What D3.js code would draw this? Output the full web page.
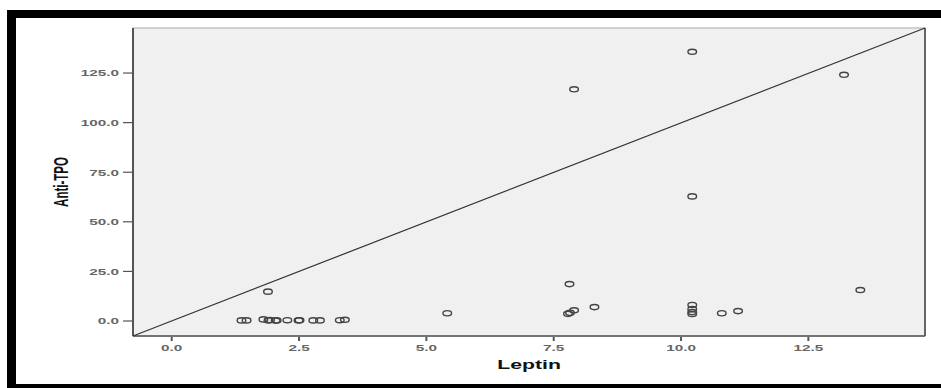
<!DOCTYPE html>
<html><head><meta charset="utf-8">
<script src="https://cdn.jsdelivr.net/npm/d3@7"></script>
<style>html,body{margin:0;padding:0;background:#fff;}svg{display:block;}</style>
</head><body>
<svg id="c" width="941" height="388"></svg>
<script>
// ---- data ----
const leptin  = [1.37,1.47,1.80,1.90,1.93,2.04,2.06,2.27,2.49,2.51,2.78,2.91,3.30,3.40,1.89,5.41,7.78,7.82,7.90,8.30,7.81,7.90,10.22,10.22,10.22,10.22,10.22,10.22,10.80,11.12,13.20,13.52];
const antiTPO = [0.3,0.3,0.8,0.3,0.5,0.2,0.3,0.4,0.3,0.4,0.3,0.3,0.4,0.6,14.8,3.9,3.6,4.1,5.4,7.0,18.6,116.8,135.7,62.8,8.1,6.0,4.5,3.5,3.9,5.0,124.1,15.6];
const xTicks = [0, 2.5, 5, 7.5, 10, 12.5];
const yTicks = [0, 25, 50, 75, 100, 125];
const xDomain = [-0.76, 14.79];
const yDomain = [-7.56, 147.7];
const refLineX = [-0.76, 14.79];
const refLineY = [-7.56, 147.7];
const xTitle = "Leptin", yTitle = "Anti-TPO";

// ---- layout ----
const svg = d3.select("#c");
const L = 133, R = 925, T = 28, B = 336;
const SX = 1.7; // horizontal stretch of the source image
const x = d3.scaleLinear().domain(xDomain).range([L, R]);
const y = d3.scaleLinear().domain(yDomain).range([B, T]);

// outer black frame (left, top, bottom)
svg.append("rect").attr("x",7).attr("y",10).attr("width",934).attr("height",8).attr("fill","#000");
svg.append("rect").attr("x",7).attr("y",10).attr("width",9).attr("height",378).attr("fill","#000");
svg.append("rect").attr("x",7).attr("y",384).attr("width",934).attr("height",4).attr("fill","#000");

// plot background
svg.append("rect").attr("x",L).attr("y",T).attr("width",R-L).attr("height",B-T)
  .attr("fill","#f0f0f0").attr("stroke","#aaa").attr("stroke-width",1);
// darker edges
svg.append("line").attr("x1",L).attr("x2",L).attr("y1",T).attr("y2",B).attr("stroke","#555").attr("stroke-width",2);
svg.append("line").attr("x1",R).attr("x2",R).attr("y1",T).attr("y2",B).attr("stroke","#666").attr("stroke-width",2);
svg.append("line").attr("x1",L).attr("x2",R).attr("y1",B).attr("y2",B).attr("stroke","#555").attr("stroke-width",1.7);

// y axis ticks
const yAx = svg.append("g");
yTicks.forEach(t => {
  yAx.append("line").attr("x1",L-10).attr("x2",L).attr("y1",y(t)).attr("y2",y(t)).attr("stroke","#555").attr("stroke-width",1.2);
  yAx.append("text").attr("transform",`translate(119,${y(t)+3.3}) scale(${SX},1)`)
    .attr("text-anchor","end").attr("font-family","Liberation Sans, Arial, sans-serif")
    .attr("font-size",9).attr("font-weight","bold").attr("fill","#666").text(t.toFixed(1));
});
// x axis ticks
const xAx = svg.append("g");
xTicks.forEach(t => {
  xAx.append("line").attr("x1",x(t)).attr("x2",x(t)).attr("y1",B+1).attr("y2",B+5).attr("stroke","#555").attr("stroke-width",2);
  xAx.append("text").attr("transform",`translate(${x(t)},${350.5}) scale(${SX},1)`)
    .attr("text-anchor","middle").attr("font-family","Liberation Sans, Arial, sans-serif")
    .attr("font-size",9).attr("font-weight","bold").attr("fill","#666").text(t.toFixed(1));
});

// titles
svg.append("text").attr("transform",`translate(${(L+R)/2},369) scale(${SX},1)`)
  .attr("text-anchor","middle").attr("font-family","Liberation Sans, Arial, sans-serif")
  .attr("font-size",12.5).attr("font-weight","bold").attr("fill","#111").text(xTitle);
svg.append("text").attr("transform",`translate(68,${(T+B)/2}) scale(1.8,1) rotate(-90)`)
  .attr("text-anchor","middle").attr("font-family","Liberation Sans, Arial, sans-serif")
  .attr("font-size",11.5).attr("font-weight","bold").attr("fill","#111").text(yTitle);

// reference line
svg.append("line").attr("x1",x(refLineX[0])).attr("y1",y(refLineY[0]))
  .attr("x2",x(refLineX[1])).attr("y2",y(refLineY[1]))
  .attr("stroke","#333").attr("stroke-width",1.2);

// points
svg.append("g").selectAll("ellipse").data(leptin.map((v,i)=>[v,antiTPO[i]])).join("ellipse")
  .attr("cx",d=>x(d[0])).attr("cy",d=>y(d[1])).attr("rx",4.3).attr("ry",2.6)
  .attr("fill","none").attr("stroke","#444").attr("stroke-width",1.4);
</script>
</body></html>
